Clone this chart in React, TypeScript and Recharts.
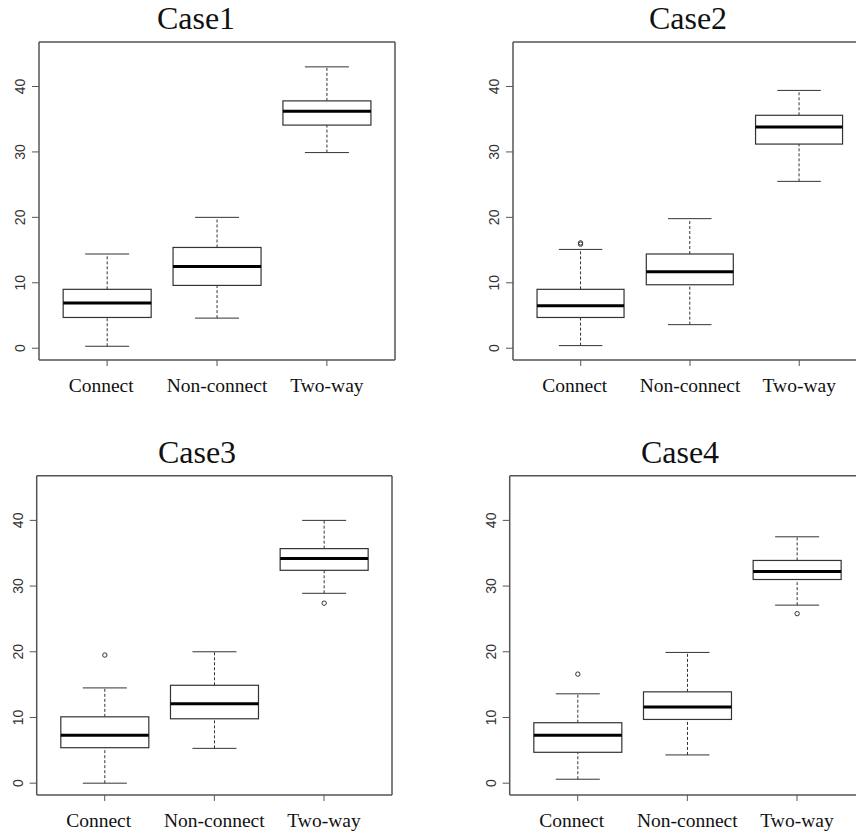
import React from 'react';
import { ComposedChart, Bar, XAxis, YAxis, CartesianGrid } from 'recharts';

const categories = ['Connect', 'Non-connect', 'Two-way'];
const caseNames = ['Case1', 'Case2', 'Case3', 'Case4'];

// box statistics per case, one value per category
const lowerWhisker = [[0.3, 4.6, 29.9], [0.4, 3.6, 25.5], [0.0, 5.3, 28.9], [0.6, 4.3, 27.1]];
const lowerQuartile = [[4.7, 9.6, 34.1], [4.7, 9.7, 31.2], [5.4, 9.8, 32.4], [4.7, 9.7, 31.0]];
const medians = [[6.9, 12.5, 36.2], [6.5, 11.7, 33.8], [7.3, 12.1, 34.2], [7.3, 11.6, 32.2]];
const upperQuartile = [[9.0, 15.4, 37.8], [9.0, 14.4, 35.6], [10.1, 14.9, 35.7], [9.2, 13.9, 33.9]];
const upperWhisker = [[14.4, 20.0, 43.0], [15.1, 19.8, 39.4], [14.5, 20.0, 40.0], [13.6, 19.9, 37.5]];
const outliers = [
  [[], [], []],
  [[15.9, 16.1], [], []],
  [[19.5], [], [27.4]],
  [[16.6], [], [25.8]],
];
const yTicks = [0, 10, 20, 30, 40];

const panels = [
  { ox: 0, oy: 0, w: 405, h: 410, ml: 9, mt: 42, titleX: 196, titleTop: 1.5 },
  { ox: 428, oy: 0, w: 449, h: 410, ml: 55, mt: 42, titleX: 688, titleTop: 1.5 },
  { ox: 0, oy: 418, w: 402, h: 427, ml: 6.7, mt: 57.7, titleX: 197, titleTop: 436 },
  { ox: 428, oy: 418, w: 447, h: 427, ml: 51.7, mt: 57.7, titleX: 680, titleTop: 436 },
];

const FRAME = '#555';
const LINE = '#333';

const BoxShape = (props: any) => {
  const { x, y, width, height, payload } = props;
  if (!payload) return null;
  const top = Math.min(y, y + height);
  const h = Math.abs(height);
  const span = payload.high - payload.low;
  const unit = span > 0 ? h / span : 0;
  const py = (v: number) => top + (payload.high - v) * unit;
  const cx = x + width / 2;
  const cap = width / 4;
  return (
    <g>
      <line x1={cx} x2={cx} y1={py(payload.low)} y2={py(payload.q1)} stroke={LINE} strokeDasharray="3 2" />
      <line x1={cx} x2={cx} y1={py(payload.q3)} y2={py(payload.high)} stroke={LINE} strokeDasharray="3 2" />
      <line x1={cx - cap} x2={cx + cap} y1={py(payload.low)} y2={py(payload.low)} stroke={LINE} />
      <line x1={cx - cap} x2={cx + cap} y1={py(payload.high)} y2={py(payload.high)} stroke={LINE} />
      <rect x={x} y={py(payload.q3)} width={width} height={py(payload.q1) - py(payload.q3)} fill="#fff" stroke={LINE} strokeWidth={1.2} />
      <line x1={x} x2={x + width} y1={py(payload.median)} y2={py(payload.median)} stroke="#000" strokeWidth={3} />
      {payload.outliers.map((o: number, i: number) => (
        <circle key={i} cx={cx} cy={py(o)} r={2.2} fill="none" stroke={LINE} strokeWidth={1} />
      ))}
    </g>
  );
};

const XTick = (props: any) => {
  const { x, y, payload } = props;
  const dx = payload.value === 'Connect' ? -6 : 0;
  return (
    <text x={x + dx} y={y + 23.7} textAnchor="middle" fontFamily="Liberation Serif" fontSize={19.5} fill="#111">
      {payload.value}
    </text>
  );
};

const YTick = (props: any) => {
  const { x, y, payload } = props;
  return (
    <text transform={`translate(${x - 5}, ${y}) rotate(-90)`} textAnchor="middle" fontFamily="Liberation Sans" fontSize={14} fill="#333">
      {payload.value}
    </text>
  );
};

// plot frame: one grid line at each edge of the plot area
const frameRows = ({ offset }: any) => [offset.top, offset.top + offset.height];
const frameCols = ({ offset }: any) => [offset.left, offset.left + offset.width];

const Panel = ({ idx }: { idx: number }) => {
  const p = panels[idx];
  const data = categories.map((name, i) => ({
    name,
    range: [lowerWhisker[idx][i], upperWhisker[idx][i]],
    low: lowerWhisker[idx][i],
    q1: lowerQuartile[idx][i],
    median: medians[idx][i],
    q3: upperQuartile[idx][i],
    high: upperWhisker[idx][i],
    outliers: outliers[idx][i],
  }));
  const plotW = p.w - 10 - p.ml - 30;
  const pad = plotW * 0.12 / 3.24;
  return (
    <>
      <div
        style={{
          position: 'absolute',
          left: p.titleX - 100,
          top: p.titleTop,
          width: 200,
          textAlign: 'center',
          fontFamily: 'Liberation Serif',
          fontSize: 32,
          lineHeight: '32px',
          color: '#111',
        }}
      >
        {caseNames[idx]}
      </div>
      <div style={{ position: 'absolute', left: p.ox, top: p.oy }}>
        <ComposedChart
          width={p.w}
          height={p.h}
          data={data}
          margin={{ top: p.mt, right: 10, left: p.ml, bottom: 10 }}
          barCategoryGap="10%"
        >
          <CartesianGrid
            stroke={FRAME}
            strokeWidth={1.5}
            horizontalCoordinatesGenerator={frameRows}
            verticalCoordinatesGenerator={frameCols}
          />
          <XAxis
            dataKey="name"
            height={40}
            padding={{ left: pad, right: pad }}
            tickSize={6}
            tickMargin={2}
            tickLine={{ stroke: FRAME }}
            axisLine={false}
            tick={<XTick />}
            interval={0}
          />
          <YAxis
            width={30}
            domain={[-1.8, 46.8]}
            ticks={yTicks}
            allowDataOverflow
            tickSize={7}
            tickMargin={2}
            tickLine={{ stroke: FRAME }}
            axisLine={false}
            tick={<YTick />}
          />
          <Bar dataKey="range" isAnimationActive={false} shape={(props: any) => <BoxShape {...props} />} />
        </ComposedChart>
      </div>
    </>
  );
};

export default function App() {
  return (
    <div style={{ position: 'absolute', left: 0, top: 0, width: 856, height: 836, overflow: 'hidden', background: '#fff' }}>
      {caseNames.map((_, i) => (
        <Panel key={i} idx={i} />
      ))}
    </div>
  );
}
